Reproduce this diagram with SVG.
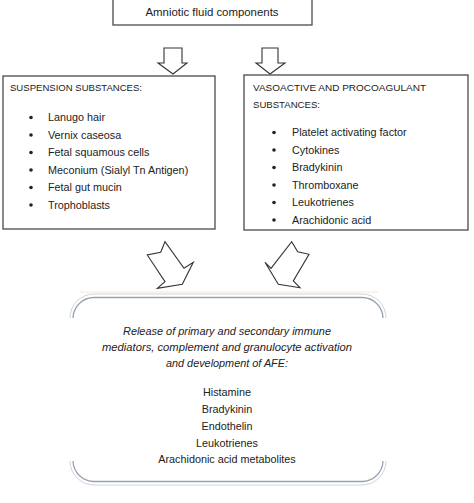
<svg xmlns="http://www.w3.org/2000/svg" width="474" height="503" viewBox="0 0 474 503">
<style>
.box{fill:#fff;stroke:#4a4a4a;stroke-width:1.3}
.t{font-family:"Liberation Sans",Arial,sans-serif;font-size:10.8px;fill:#222}
.h{font-size:9.8px}
.i{font-style:italic;font-size:10.8px}
.c{text-anchor:middle}
.arrow{fill:#fff;stroke:#333;stroke-width:1.1;stroke-linejoin:miter}
.bul{fill:#222}
</style>
<rect width="474" height="503" fill="#fff"/>
<g id="top">
<rect class="box" x="113" y="-2" width="199" height="27"/>
<text class="t c" x="212" y="16" textLength="133" lengthAdjust="spacingAndGlyphs">Amniotic fluid components</text>
</g>
<g id="connectors">
<polygon class="arrow" points="164,48 182,48 182,63 187,63 173,74 158,63 164,63"/>
<polygon class="arrow" points="262,48 278,48 278,63 285,63 270,74 256,63 262,63"/>
<polygon class="arrow" points="165,241.7 160.7,252.3 147.3,255 165,281.7 157.3,288.3 182.3,284.3 193.3,262.3 184,268.3"/>
<polygon class="arrow" points="291.7,241.7 297.7,251.7 309,254.3 293.3,281 300,287.7 278.3,284.3 265,262.3 271,268.3"/>
</g>
<g id="suspension">
<rect class="box" x="3" y="76" width="212" height="153"/>
<text class="t h" x="10" y="91" textLength="132" lengthAdjust="spacingAndGlyphs">SUSPENSION SUBSTANCES:</text>
<circle class="bul" cx="31" cy="117.5" r="1.8"/>
<circle class="bul" cx="31" cy="135" r="1.8"/>
<circle class="bul" cx="31" cy="152.5" r="1.8"/>
<circle class="bul" cx="31" cy="170" r="1.8"/>
<circle class="bul" cx="31" cy="187.5" r="1.8"/>
<circle class="bul" cx="31" cy="205" r="1.8"/>
<text class="t" x="48" y="121">Lanugo hair</text>
<text class="t" x="48" y="138.5">Vernix caseosa</text>
<text class="t" x="48" y="156">Fetal squamous cells</text>
<text class="t" x="48" y="173.5">Meconium (Sialyl Tn Antigen)</text>
<text class="t" x="48" y="191">Fetal gut mucin</text>
<text class="t" x="48" y="208.5">Trophoblasts</text>
</g>
<g id="vasoactive">
<rect class="box" x="244" y="75" width="224" height="155"/>
<text class="t h" x="253" y="91" textLength="173" lengthAdjust="spacingAndGlyphs">VASOACTIVE AND PROCOAGULANT</text>
<text class="t h" x="253" y="108" textLength="67" lengthAdjust="spacingAndGlyphs">SUBSTANCES:</text>
<circle class="bul" cx="274" cy="132.5" r="1.8"/>
<circle class="bul" cx="274" cy="150" r="1.8"/>
<circle class="bul" cx="274" cy="167.5" r="1.8"/>
<circle class="bul" cx="274" cy="185" r="1.8"/>
<circle class="bul" cx="274" cy="202.5" r="1.8"/>
<circle class="bul" cx="274" cy="220" r="1.8"/>
<text class="t" x="292" y="136">Platelet activating factor</text>
<text class="t" x="292" y="153.5">Cytokines</text>
<text class="t" x="292" y="171">Bradykinin</text>
<text class="t" x="292" y="188.5">Thromboxane</text>
<text class="t" x="292" y="206">Leukotrienes</text>
<text class="t" x="292" y="223.5">Arachidonic acid</text>
</g>
<g id="release">
<line x1="80" y1="292" x2="378" y2="292" stroke="#f7e4d6" stroke-width="1"/>
<path d="M70,318 A24,24 0 0 1 94,294 H362 A24,24 0 0 1 386,318 M70,461 A24,24 0 0 0 94,485 H362 A24,24 0 0 0 386,461" fill="none" stroke="#d0d4da" stroke-width="1"/>
<path d="M73,318 A21,21 0 0 1 94,297.5 H362 A21,21 0 0 1 383,318 M73,461 A21,21 0 0 0 94,481.5 H362 A21,21 0 0 0 383,461" fill="none" stroke="#98a2b2" stroke-width="1.3"/>
<text class="t i c" x="227" y="335" textLength="208" lengthAdjust="spacingAndGlyphs">Release of primary and secondary immune</text>
<text class="t i c" x="227" y="351" textLength="250" lengthAdjust="spacingAndGlyphs">mediators, complement and granulocyte activation</text>
<text class="t i c" x="227" y="367" textLength="122" lengthAdjust="spacingAndGlyphs">and development of AFE:</text>
<text class="t c" x="227" y="396">Histamine</text>
<text class="t c" x="227" y="413">Bradykinin</text>
<text class="t c" x="227" y="430">Endothelin</text>
<text class="t c" x="227" y="447">Leukotrienes</text>
<text class="t c" x="227" y="463">Arachidonic acid metabolites</text>
</g>
</svg>
